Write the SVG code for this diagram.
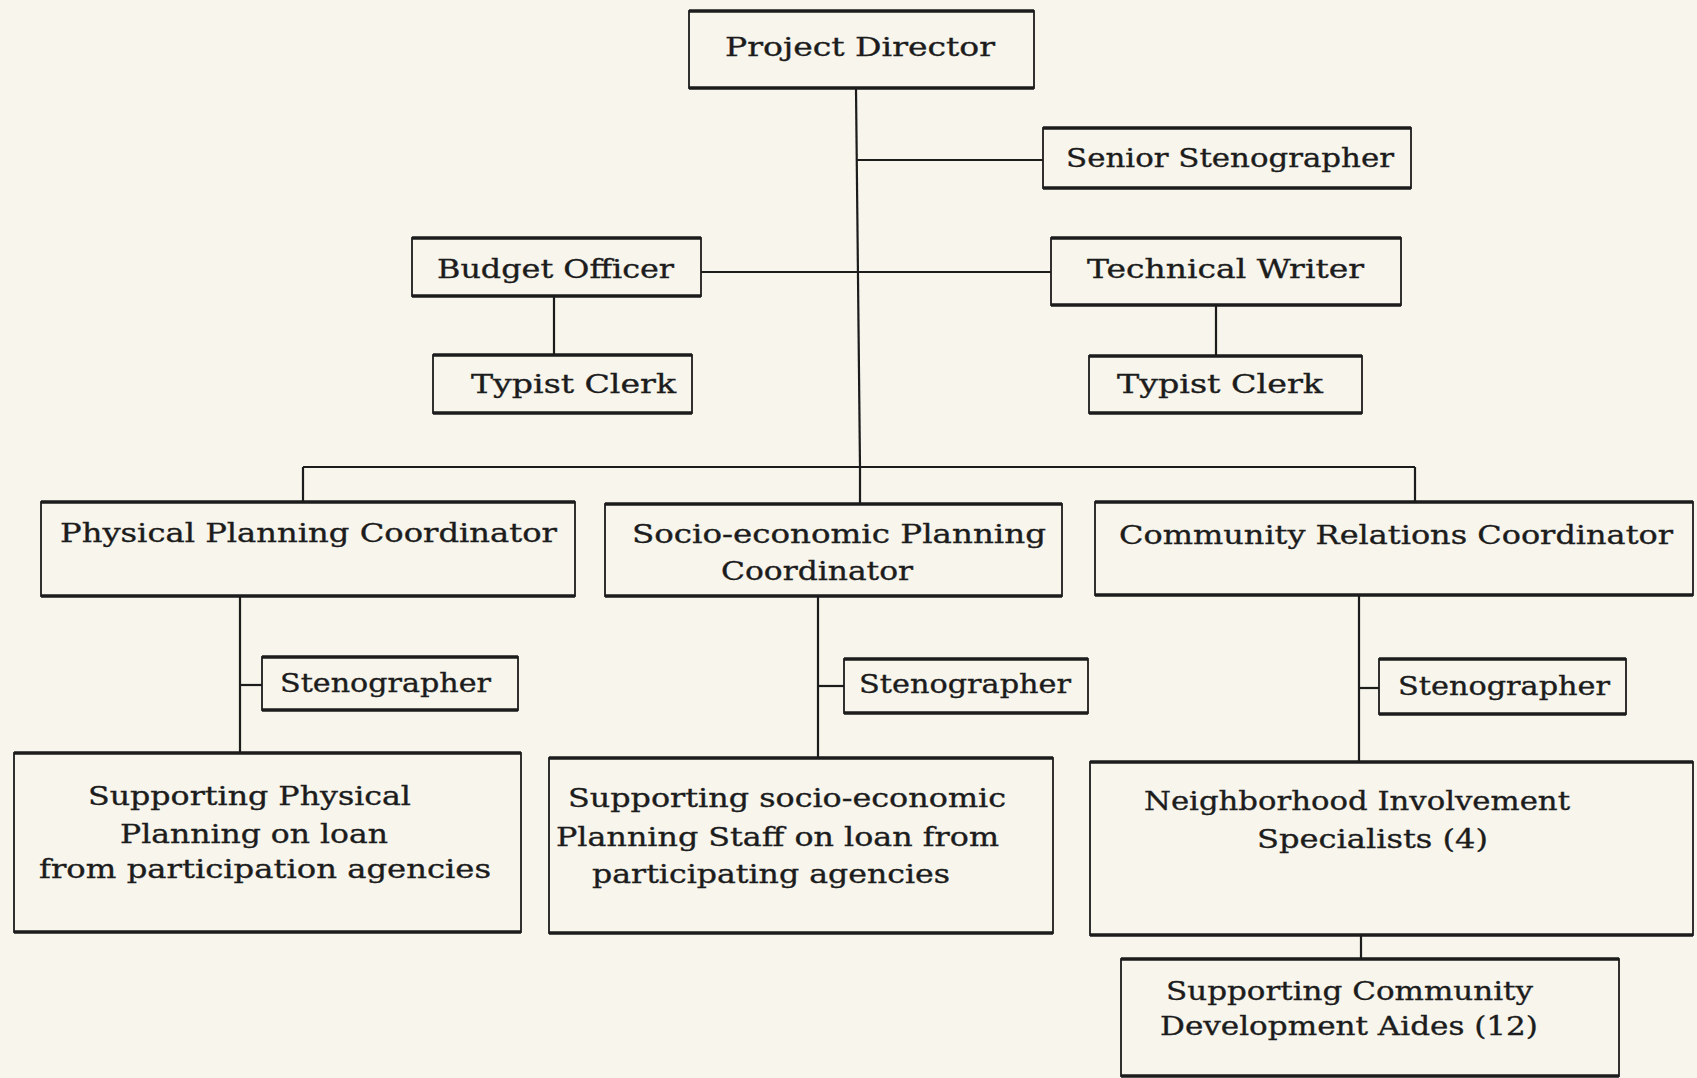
<svg xmlns="http://www.w3.org/2000/svg" width="1697" height="1078" viewBox="0 0 1697 1078">
<style>
.bg{fill:#f7f5ec}
.box rect{fill:none;stroke:#1c1c1c;stroke-width:1.8}
.box path{fill:none;stroke:#1c1c1c;stroke-width:3.4}
.box text{font-family:"DejaVu Serif","Liberation Serif",serif;font-size:26px;fill:#1c1c1c;stroke:#1c1c1c;stroke-width:0.35}
#connectors line{stroke:#1c1c1c;stroke-width:2.2;fill:none}
</style>
<rect class="bg" x="0" y="0" width="1697" height="1078"/>
<g id="connectors">
<line x1="856" y1="89" x2="860" y2="467"/>
<line x1="856" y1="160" x2="1043" y2="160"/>
<line x1="701" y1="272" x2="1051" y2="272"/>
<line x1="554" y1="296" x2="554" y2="355"/>
<line x1="1216" y1="305" x2="1216" y2="356"/>
<line x1="303" y1="467" x2="1415" y2="467"/>
<line x1="303" y1="467" x2="303" y2="502"/>
<line x1="1415" y1="467" x2="1415" y2="502"/>
<line x1="860" y1="467" x2="860" y2="504"/>
<line x1="240" y1="596" x2="240" y2="753"/>
<line x1="240" y1="685" x2="262" y2="685"/>
<line x1="818" y1="596" x2="818" y2="758"/>
<line x1="818" y1="686" x2="844" y2="686"/>
<line x1="1359" y1="595" x2="1359" y2="762"/>
<line x1="1359" y1="688" x2="1379" y2="688"/>
<line x1="1361" y1="935" x2="1361" y2="959"/>
</g>
<g id="project-director" class="box">
<rect x="689" y="11" width="345" height="77"/>
<path d="M689 11H1034M689 88H1034"/>
<text x="725" y="56" textLength="270" lengthAdjust="spacingAndGlyphs">Project Director</text>
</g>
<g id="senior-stenographer" class="box">
<rect x="1043" y="128" width="368" height="60"/>
<path d="M1043 128H1411M1043 188H1411"/>
<text x="1066" y="167" textLength="328" lengthAdjust="spacingAndGlyphs">Senior Stenographer</text>
</g>
<g id="budget-officer" class="box">
<rect x="412" y="238" width="289" height="58"/>
<path d="M412 238H701M412 296H701"/>
<text x="437" y="278" textLength="237" lengthAdjust="spacingAndGlyphs">Budget Officer</text>
</g>
<g id="technical-writer" class="box">
<rect x="1051" y="238" width="350" height="67"/>
<path d="M1051 238H1401M1051 305H1401"/>
<text x="1087" y="278" textLength="277" lengthAdjust="spacingAndGlyphs">Technical Writer</text>
</g>
<g id="typist-clerk-1" class="box">
<rect x="433" y="355" width="259" height="58"/>
<path d="M433 355H692M433 413H692"/>
<text x="471" y="393" textLength="205" lengthAdjust="spacingAndGlyphs">Typist Clerk</text>
</g>
<g id="typist-clerk-2" class="box">
<rect x="1089" y="356" width="273" height="57"/>
<path d="M1089 356H1362M1089 413H1362"/>
<text x="1117" y="393" textLength="206" lengthAdjust="spacingAndGlyphs">Typist Clerk</text>
</g>
<g id="physical-planning-coordinator" class="box">
<rect x="41" y="502" width="534" height="94"/>
<path d="M41 502H575M41 596H575"/>
<text x="60" y="542" textLength="497" lengthAdjust="spacingAndGlyphs">Physical Planning Coordinator</text>
</g>
<g id="socio-economic-planning-coordinator" class="box">
<rect x="605" y="504" width="457" height="92"/>
<path d="M605 504H1062M605 596H1062"/>
<text x="632" y="543" textLength="414" lengthAdjust="spacingAndGlyphs">Socio-economic Planning</text>
<text x="721" y="580" textLength="192" lengthAdjust="spacingAndGlyphs">Coordinator</text>
</g>
<g id="community-relations-coordinator" class="box">
<rect x="1095" y="502" width="598" height="93"/>
<path d="M1095 502H1693M1095 595H1693"/>
<text x="1119" y="544" textLength="554" lengthAdjust="spacingAndGlyphs">Community Relations Coordinator</text>
</g>
<g id="stenographer-1" class="box">
<rect x="262" y="657" width="256" height="53"/>
<path d="M262 657H518M262 710H518"/>
<text x="280" y="692" textLength="211" lengthAdjust="spacingAndGlyphs">Stenographer</text>
</g>
<g id="stenographer-2" class="box">
<rect x="844" y="659" width="244" height="54"/>
<path d="M844 659H1088M844 713H1088"/>
<text x="859" y="693" textLength="212" lengthAdjust="spacingAndGlyphs">Stenographer</text>
</g>
<g id="stenographer-3" class="box">
<rect x="1379" y="659" width="247" height="55"/>
<path d="M1379 659H1626M1379 714H1626"/>
<text x="1398" y="695" textLength="212" lengthAdjust="spacingAndGlyphs">Stenographer</text>
</g>
<g id="supporting-physical-planning" class="box">
<rect x="14" y="753" width="507" height="179"/>
<path d="M14 753H521M14 932H521"/>
<text x="88" y="805" textLength="323" lengthAdjust="spacingAndGlyphs">Supporting Physical</text>
<text x="120" y="843" textLength="268" lengthAdjust="spacingAndGlyphs">Planning on loan</text>
<text x="39" y="878" textLength="452" lengthAdjust="spacingAndGlyphs">from participation agencies</text>
</g>
<g id="supporting-socio-economic-staff" class="box">
<rect x="549" y="758" width="504" height="175"/>
<path d="M549 758H1053M549 933H1053"/>
<text x="568" y="807" textLength="438" lengthAdjust="spacingAndGlyphs">Supporting socio-economic</text>
<text x="556" y="846" textLength="443" lengthAdjust="spacingAndGlyphs">Planning Staff on loan from</text>
<text x="592" y="883" textLength="358" lengthAdjust="spacingAndGlyphs">participating agencies</text>
</g>
<g id="neighborhood-involvement-specialists" class="box">
<rect x="1090" y="762" width="603" height="173"/>
<path d="M1090 762H1693M1090 935H1693"/>
<text x="1144" y="810" textLength="426" lengthAdjust="spacingAndGlyphs">Neighborhood Involvement</text>
<text x="1257" y="848" textLength="231" lengthAdjust="spacingAndGlyphs">Specialists (4)</text>
</g>
<g id="supporting-community-development-aides" class="box">
<rect x="1121" y="959" width="498" height="117"/>
<path d="M1121 959H1619M1121 1076H1619"/>
<text x="1166" y="1000" textLength="367" lengthAdjust="spacingAndGlyphs">Supporting Community</text>
<text x="1160" y="1035" textLength="378" lengthAdjust="spacingAndGlyphs">Development Aides (12)</text>
</g>
</svg>
